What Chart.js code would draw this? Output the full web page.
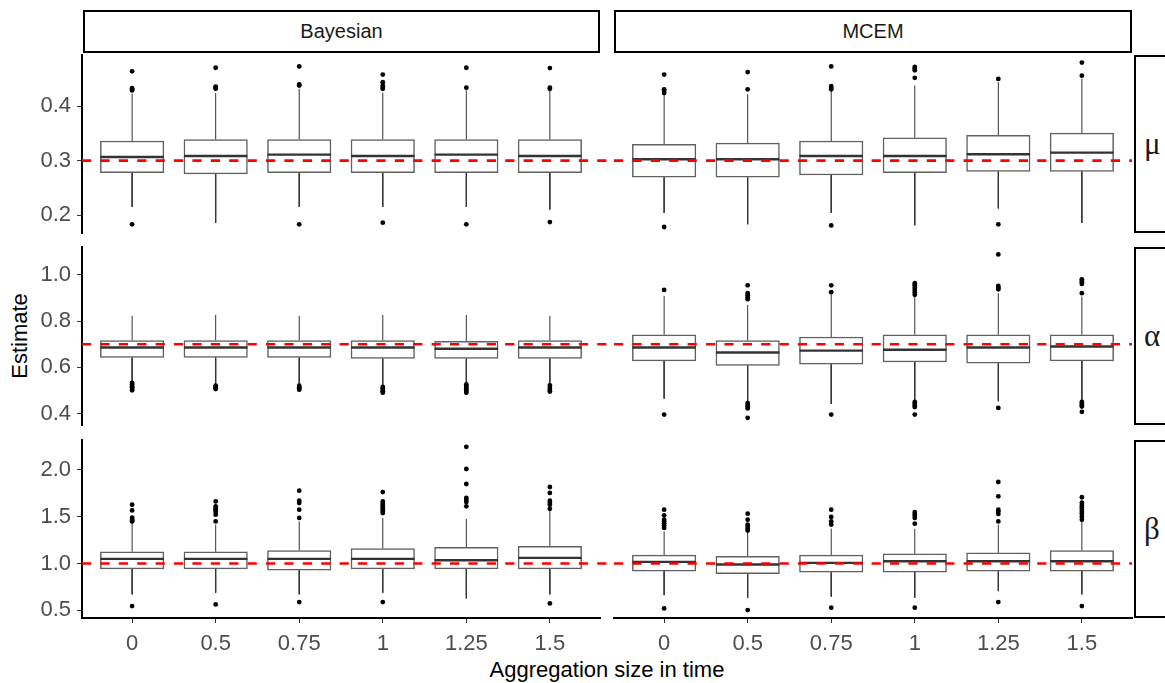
<!DOCTYPE html>
<html>
<head>
<meta charset="utf-8">
<script src="https://cdn.jsdelivr.net/npm/chart.js@4/dist/chart.umd.min.js"></script>
<style>
  html, body { margin: 0; padding: 0; background: #fff; }
  body { width: 1165px; height: 683px; overflow: hidden; position: relative;
         font-family: "Liberation Sans", Arial, sans-serif; }
  canvas { position: absolute; }
  .strip { position: absolute; box-sizing: border-box; border: 2px solid #000; background: #fff;
           display: flex; align-items: center; justify-content: center; color: #1a1a1a; }
  .top { font-size: 20px; }
  .side { font-family: "Liberation Serif", "DejaVu Serif", serif; font-size: 31px; justify-content: flex-start; padding-left: 8px; }
  .title { position: absolute; font-size: 22px; color: #000; white-space: nowrap; }
</style>
</head>
<body>
<div class="strip top" style="left:83px;top:10px;width:517px;height:43px;">Bayesian</div>
<div class="strip top" style="left:614px;top:10px;width:518px;height:43px;">MCEM</div>
<div class="strip side" style="left:1134px;top:55px;width:40px;height:178px;">μ</div>
<div class="strip side" style="left:1134px;top:247px;width:40px;height:178px;">α</div>
<div class="strip side" style="left:1134px;top:440px;width:40px;height:178px;">β</div>
<div class="title" id="ytitle" style="left:20px;top:336px;transform:translate(-50%,-50%) rotate(-90deg);">Estimate</div>
<div class="title" style="left:607px;top:670px;transform:translate(-50%,-50%);">Aggregation size in time</div>

<script>
// ---------------- DATA ----------------
const categories = ['0', '0.5', '0.75', '1', '1.25', '1.5'];

const muTrue = 0.3;
const alphaTrue = 0.7;
const betaTrue = 1.0;

const muTicks = [0.2, 0.3, 0.4];
const alphaTicks = [0.4, 0.6, 0.8, 1.0];
const betaTicks = [0.5, 1.0, 1.5, 2.0];

// each entry: [lower whisker, Q1, median, Q3, upper whisker]
const muBayes = [
  [0.215, 0.278, 0.3066, 0.336, 0.423],
  [0.1855, 0.2755, 0.3085, 0.3385, 0.424],
  [0.215, 0.278, 0.311, 0.3385, 0.432],
  [0.215, 0.278, 0.3085, 0.3385, 0.425],
  [0.215, 0.278, 0.311, 0.3385, 0.429],
  [0.21, 0.278, 0.3085, 0.3385, 0.429]
];
const muBayesOut = [
  [0.464, 0.433, 0.431, 0.429, 0.183],
  [0.4706, 0.436, 0.434, 0.432],
  [0.473, 0.44, 0.438, 0.183],
  [0.458, 0.444, 0.438, 0.434, 0.432, 0.186],
  [0.4706, 0.434, 0.183],
  [0.47, 0.434, 0.432, 0.187]
];
const muMcem = [
  [0.204, 0.2694, 0.3024, 0.33, 0.42],
  [0.183, 0.2694, 0.3024, 0.332, 0.4217],
  [0.204, 0.2736, 0.3085, 0.336, 0.4277],
  [0.181, 0.278, 0.3085, 0.342, 0.438],
  [0.212, 0.28, 0.3116, 0.3464, 0.444],
  [0.1855, 0.28, 0.3147, 0.3506, 0.4505]
];
const muMcemOut = [
  [0.458, 0.431, 0.428, 0.424, 0.178],
  [0.4626, 0.431],
  [0.473, 0.437, 0.434, 0.431, 0.181],
  [0.472, 0.469, 0.466, 0.452],
  [0.45, 0.183],
  [0.48, 0.456]
];

const alphaBayes = [
  [0.539, 0.643, 0.686, 0.716, 0.823],
  [0.529, 0.643, 0.686, 0.716, 0.827],
  [0.529, 0.643, 0.686, 0.716, 0.823],
  [0.522, 0.638, 0.686, 0.716, 0.827],
  [0.529, 0.638, 0.680, 0.712, 0.827],
  [0.529, 0.638, 0.686, 0.716, 0.823]
];
const alphaBayesOut = [
  [0.532, 0.525, 0.518, 0.512, 0.506, 0.500],
  [0.52, 0.515, 0.51, 0.506],
  [0.52, 0.514, 0.508, 0.503],
  [0.515, 0.508, 0.502, 0.496, 0.49],
  [0.526, 0.519, 0.512, 0.505, 0.497, 0.49],
  [0.522, 0.51, 0.502, 0.495]
];
const alphaMcem = [
  [0.464, 0.628, 0.686, 0.741, 0.909],
  [0.45, 0.608, 0.664, 0.716, 0.87],
  [0.441, 0.614, 0.672, 0.731, 0.914],
  [0.453, 0.623, 0.676, 0.741, 0.905],
  [0.453, 0.618, 0.686, 0.741, 0.921],
  [0.453, 0.628, 0.690, 0.741, 0.906]
];
const alphaMcemOut = [
  [0.935, 0.395],
  [0.955, 0.921, 0.912, 0.903, 0.895, 0.445, 0.437, 0.43, 0.422, 0.381],
  [0.955, 0.925, 0.395],
  [0.964, 0.955, 0.945, 0.935, 0.925, 0.914, 0.45, 0.443, 0.435, 0.428, 0.395],
  [1.089, 0.952, 0.945, 0.938, 0.424],
  [0.981, 0.975, 0.968, 0.961, 0.921, 0.45, 0.443, 0.436, 0.43, 0.407]
];

const betaBayes = [
  [0.67, 0.943, 1.05, 1.125, 1.44],
  [0.687, 0.943, 1.05, 1.125, 1.416],
  [0.67, 0.929, 1.05, 1.139, 1.45],
  [0.687, 0.943, 1.05, 1.16, 1.487],
  [0.627, 0.943, 1.035, 1.174, 1.476],
  [0.67, 0.943, 1.06, 1.185, 1.565]
];
const betaBayesOut = [
  [1.629, 1.568, 1.49, 1.475, 1.46, 1.45, 0.545],
  [1.664, 1.611, 1.59, 1.57, 1.55, 1.522, 1.45, 0.563],
  [1.778, 1.672, 1.647, 1.575, 1.487, 0.588],
  [1.764, 1.664, 1.64, 1.62, 1.6, 1.58, 1.56, 1.54, 0.588],
  [2.247, 2.01, 1.85, 1.7, 1.68, 1.657, 1.611],
  [1.818, 1.754, 1.672, 1.65, 1.629, 1.585, 0.574]
];
const betaMcem = [
  [0.662, 0.918, 1.018, 1.089, 1.344],
  [0.634, 0.893, 0.989, 1.078, 1.338],
  [0.645, 0.908, 1.007, 1.089, 1.373],
  [0.634, 0.908, 1.025, 1.103, 1.37],
  [0.705, 0.918, 1.025, 1.114, 1.416],
  [0.67, 0.918, 1.025, 1.139, 1.45]
];
const betaMcemOut = [
  [1.576, 1.515, 1.469, 1.45, 1.43, 1.41, 1.38, 0.52],
  [1.533, 1.469, 1.416, 1.395, 1.375, 1.352, 0.503],
  [1.576, 1.498, 1.45, 1.416, 0.528],
  [1.55, 1.53, 1.51, 1.487, 1.426, 0.528],
  [1.871, 1.718, 1.576, 1.555, 1.53, 1.45, 0.588],
  [1.708, 1.65, 1.62, 1.6, 1.576, 1.55, 1.53, 1.5, 1.469, 0.545]
];

// ---------------- LAYOUT / STYLE ----------------
const COLS = [{ left: 82, width: 518 }, { left: 614, width: 518 }];
const ROWS = [{ top: 55, height: 178 }, { top: 247, height: 178 }, { top: 440, height: 178 }];
const PAD = 20;
const GAP = COLS[1].left - (COLS[0].left + COLS[0].width);
const X_MIN = -0.6, X_MAX = 5.6;
const BOX_UNITS = 0.76;
const TICK_FONT = { family: '"Liberation Sans", Arial, sans-serif', size: 22 };
const TICK_COLOR = '#4d4d4d';

function makePanel(col, row, stats, outliers, truth, yMin, yMax, yTicks) {
  const c = COLS[col], r = ROWS[row];
  const yW = col === 0 ? 82 : 0;
  const padL = col === 0 ? 0 : PAD;
  const xH = row === 2 ? 50 : 0;
  const W = padL + yW + c.width + PAD;
  const H = PAD + r.height + xH + PAD;
  const canvas = document.createElement('canvas');
  canvas.width = W; canvas.height = H;
  canvas.style.width = W + 'px'; canvas.style.height = H + 'px';
  canvas.style.left = (c.left - yW - padL) + 'px';
  canvas.style.top = (r.top - PAD) + 'px';
  document.body.appendChild(canvas);

  const pxPerUnit = c.width / (X_MAX - X_MIN);
  const half = BOX_UNITS / 2;
  // the reference line of the left column continues across the gap between the facets
  const extra = col === 0 ? GAP : 0;

  const boxData = stats.map((s, i) => ({ x: i, y: [s[1], s[3]] }));
  const whiskerData = stats.flatMap((s, i) => [
    { x: i, y: s[3] }, { x: i, y: s[4] }, { x: i, y: null },
    { x: i, y: s[1] }, { x: i, y: s[0] }, { x: i, y: null }
  ]);
  const medianData = stats.flatMap((s, i) => [
    { x: i - half, y: s[2] }, { x: i + half, y: s[2] }, { x: i, y: null }
  ]);
  const outData = outliers.flatMap((arr, i) => arr.map(v => ({ x: i, y: v })));
  const refData = [{ x: X_MIN, y: truth }, { x: X_MAX + extra / pxPerUnit, y: truth }];

  new Chart(canvas, {
    type: 'bar',
    data: {
      datasets: [
        { type: 'line', data: refData, borderColor: '#ff0000', borderWidth: 2.6,
          borderDash: [9.2, 9.2], pointRadius: 0, order: 0,
          clip: { left: 0, right: extra, top: 2, bottom: 2 } },
        { type: 'scatter', data: outData, pointRadius: 2.4, backgroundColor: '#000',
          borderWidth: 0, order: 1 },
        { type: 'line', data: medianData, borderColor: '#333333', borderWidth: 2.4,
          pointRadius: 0, spanGaps: false, order: 2 },
        { type: 'bar', data: boxData, backgroundColor: '#ffffff', borderColor: '#606060',
          borderWidth: 1.5, borderSkipped: false, barThickness: BOX_UNITS * pxPerUnit, order: 3 },
        { type: 'line', data: whiskerData, borderColor: '#333333', borderWidth: 1,
          pointRadius: 0, spanGaps: false, order: 4 }
      ]
    },
    options: {
      responsive: false,
      animation: false,
      devicePixelRatio: 1,
      events: [],
      layout: { padding: { left: padL, right: PAD, top: PAD, bottom: PAD } },
      plugins: { legend: { display: false }, tooltip: { enabled: false } },
      scales: {
        x: {
          type: 'linear', min: X_MIN, max: X_MAX, offset: false,
          display: row === 2,
          afterBuildTicks: s => { s.ticks = categories.map((_, i) => ({ value: i })); },
          afterFit: s => { s.height = xH; },
          ticks: { callback: v => categories[v], font: TICK_FONT, color: TICK_COLOR,
                   padding: 8, autoSkip: false, maxRotation: 0 },
          grid: { offset: false, drawOnChartArea: false, drawTicks: true, tickLength: 5, color: '#333333' },
          border: { display: true, color: '#000', width: 2 }
        },
        y: {
          type: 'linear', min: yMin, max: yMax, beginAtZero: false,
          display: col === 0,
          afterBuildTicks: s => { s.ticks = yTicks.map(v => ({ value: v })); },
          afterFit: s => { s.width = yW; },
          ticks: { callback: v => Number(v).toFixed(1), font: TICK_FONT, color: TICK_COLOR,
                   padding: 6, autoSkip: false },
          grid: { offset: false, drawOnChartArea: false, drawTicks: true, tickLength: 5, color: '#333333' },
          border: { display: true, color: '#000', width: 2 }
        }
      }
    }
  });
}

makePanel(0, 0, muBayes, muBayesOut, muTrue, 0.167, 0.494, muTicks);
makePanel(1, 0, muMcem, muMcemOut, muTrue, 0.167, 0.494, muTicks);
makePanel(0, 1, alphaBayes, alphaBayesOut, alphaTrue, 0.35, 1.121, alphaTicks);
makePanel(1, 1, alphaMcem, alphaMcemOut, alphaTrue, 0.35, 1.121, alphaTicks);
makePanel(0, 2, betaBayes, betaBayesOut, betaTrue, 0.418, 2.32, betaTicks);
makePanel(1, 2, betaMcem, betaMcemOut, betaTrue, 0.418, 2.32, betaTicks);
</script>
</body>
</html>
